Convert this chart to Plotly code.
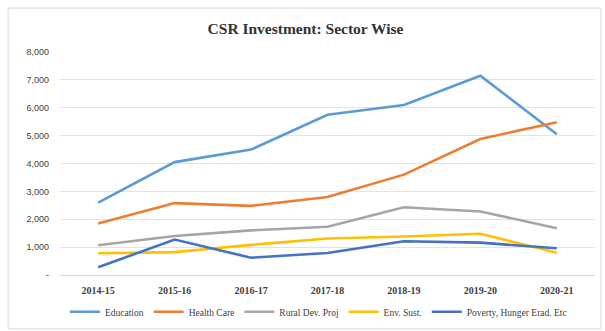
import plotly.graph_objects as go

years = ["2014-15", "2015-16", "2016-17", "2017-18", "2018-19", "2019-20", "2020-21"]

education = [2600, 4050, 4500, 5750, 6100, 7150, 5050]
health_care = [1850, 2580, 2480, 2800, 3600, 4880, 5480]
rural_dev = [1070, 1400, 1600, 1730, 2430, 2280, 1680]
env_sust = [780, 820, 1080, 1310, 1380, 1480, 800]
poverty = [280, 1270, 620, 790, 1210, 1160, 960]

series = [
    ("Education", education, "#5B9BD5"),
    ("Health Care", health_care, "#ED7D31"),
    ("Rural Dev. Proj", rural_dev, "#A5A5A5"),
    ("Env. Sust.", env_sust, "#FFC000"),
    ("Poverty, Hunger Erad. Etc", poverty, "#4472C4"),
]

y_ticks = [0, 1000, 2000, 3000, 4000, 5000, 6000, 7000, 8000]
y_tick_text = ["-"] + [f"{v:,}" for v in y_ticks[1:]]

fig = go.Figure()
for name, vals, color in series:
    fig.add_trace(go.Scatter(
        x=years, y=vals, name=name, mode="lines",
        line=dict(color=color, width=2.6),
    ))

fig.update_layout(
    width=605, height=331,
    margin=dict(l=60, r=10, t=52, b=56, autoexpand=False),
    paper_bgcolor="white", plot_bgcolor="white",
    title=dict(
        text="<b>CSR Investment: Sector Wise</b>",
        x=0.505, xanchor="center", y=0.915, yanchor="middle",
        font=dict(family="Liberation Serif", size=15.5, color="#333333"),
    ),
    xaxis=dict(
        showgrid=False, showline=False, zeroline=False,
        ticks="", ticklabelstandoff=8,
        tickfont=dict(family="Liberation Serif", size=10, color="#404040", weight="bold"),
        range=[-0.5, 6.5],
    ),
    yaxis=dict(
        range=[0, 8000], tickvals=y_ticks, ticktext=y_tick_text,
        showgrid=True, gridcolor="#E3E3E3", gridwidth=1.2,
        zeroline=True, zerolinecolor="#D9D9D9", zerolinewidth=1.2,
        ticks="", ticklen=0, ticklabelstandoff=10,
        tickfont=dict(family="Liberation Sans", size=9, color="#404040"),
    ),
    legend=dict(
        orientation="h", x=0.483, xanchor="center",
        yref="container", y=0.058, yanchor="middle",
        bgcolor="rgba(0,0,0,0)",
        font=dict(family="Liberation Serif", size=9.5, color="#404040"),
        itemwidth=30, tracegroupgap=0,
    ),
    showlegend=True,
)

# light frame around the whole chart
fig.add_shape(
    type="rect", xref="paper", yref="paper",
    x0=-0.097, x1=1.011, y0=-0.242, y1=1.197,
    line=dict(color="#D9D9D9", width=1),
)

fig.write_html("out.html")
